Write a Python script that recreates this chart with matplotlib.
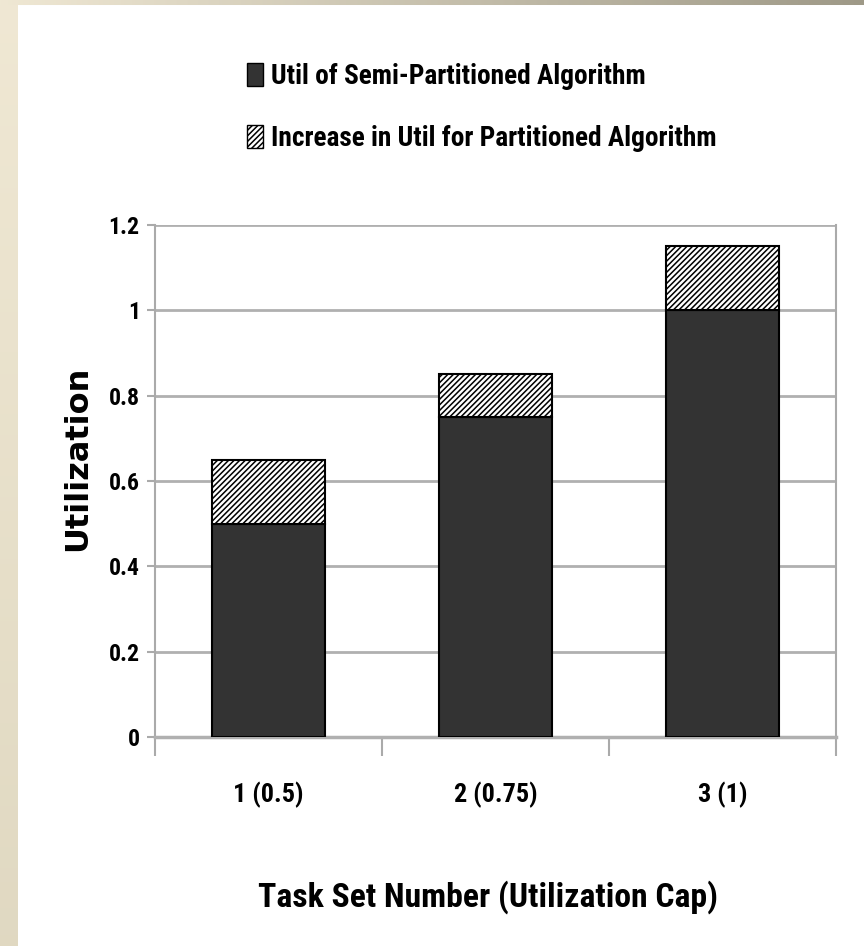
import numpy as np
import matplotlib.pyplot as plt
from matplotlib.patches import Patch
from matplotlib import font_manager

# data
categories = ['1 (0.5)', '2 (0.75)', '3 (1)']
semi_util = [0.5, 0.75, 1.0]
partition_increase = [0.15, 0.10, 0.15]
yticks = [0, 0.2, 0.4, 0.6, 0.8, 1, 1.2]
ytick_labels = ['0', '0.2', '0.4', '0.6', '0.8', '1', '1.2']
legend_labels = ['Util of Semi-Partitioned Algorithm', 'Increase in Util for Partitioned Algorithm']

# pick a condensed bold face that is installed
fonts = font_manager.fontManager.ttflist
narrow = 'Liberation Sans'
for cand in ['Liberation Sans Narrow', 'Arimo Narrow', 'Roboto Condensed', 'PT Sans Narrow',
             'Archivo Narrow', 'Barlow Condensed', 'Asap Condensed']:
    if any(f.name == cand and int(f.weight) >= 700 for f in fonts):
        narrow = cand
        break

plt.rcParams['hatch.linewidth'] = 1.1
plt.rcParams['hatch.color'] = '#333333'

fig = plt.figure(figsize=(8.64, 9.46), dpi=100, facecolor='white')

# slide background strips (left and top)
bg = fig.add_axes([0, 0, 1, 1], zorder=-10)
grad = np.ones((946, 864, 3))
left_col = np.linspace(0, 1, 946)[:, None]
grad[:, :18] = (np.array([0.94, 0.91, 0.83]) * (1 - left_col) + np.array([0.88, 0.85, 0.76]) * left_col)[:, None, :]
top_row = np.linspace(0, 1, 864)[:, None]
grad[:6, :] = (np.array([0.94, 0.91, 0.83]) * (1 - top_row) + np.array([0.62, 0.60, 0.53]) * top_row)[None, :, :]
bg.imshow(grad, aspect='auto', extent=[0, 1, 0, 1])
bg.axis('off')

ax = fig.add_axes([155 / 864, 209 / 946, 681 / 864, 512 / 946])
x = np.arange(len(categories))
ax.bar(x, semi_util, width=0.5, color='#333333', edgecolor='black', linewidth=1.5, zorder=3)
ax.bar(x, partition_increase, bottom=semi_util, width=0.5, color='white',
       edgecolor='black', linewidth=1.5, hatch='//////', zorder=3)

ax.set_xlim(-0.5, 2.5)
ax.set_ylim(0, 1.2)
ax.set_yticks(yticks)
ax.set_yticklabels(ytick_labels, family=narrow, fontweight='bold', fontsize=20)
ax.set_xticks(x)
ax.set_xticklabels(categories, family=narrow, fontweight='bold', fontsize=20)
ax.tick_params(axis='x', length=0, pad=32)
ax.tick_params(axis='y', length=6, color='#aaaaaa', width=1.5, pad=5)
# category separators
ax.set_xticks([-0.5, 0.5, 1.5, 2.5], minor=True)
ax.tick_params(axis='x', which='minor', length=14, color='#aaaaaa', width=1.5)
ax.yaxis.grid(True, color='#b0b0b0', linewidth=2, zorder=0)
ax.set_axisbelow(True)
for s in ['left', 'right']:
    ax.spines[s].set_color('#aaaaaa')
    ax.spines[s].set_linewidth(1.5)
ax.spines['bottom'].set_color('#b0b0b0')
ax.spines['bottom'].set_linewidth(2.5)
ax.spines['top'].set_visible(False)

ylab = fig.text(78 / 864, 1 - 458 / 946, 'Utilization', family='DejaVu Sans', fontweight='bold',
                fontsize=23, rotation=90, ha='center', va='center')
xlab = fig.text(488 / 864, 1 - 897 / 946, 'Task Set Number (Utilization Cap)', family=narrow,
                fontweight='bold', fontsize=27, ha='center', va='center')

handles = [Patch(facecolor='#333333', edgecolor='black'),
           Patch(facecolor='white', edgecolor='black', hatch='//////')]


def width_px(t):
    fig.canvas.draw()
    return t.get_window_extent().width


# scale the condensed texts so their widths match the picture
xlab.set_fontsize(27 * 460 / width_px(xlab))
lab = ax.get_xticklabels()[1]
s = 20 * 84 / width_px(lab)
for t in ax.get_xticklabels():
    t.set_fontsize(s)
lab = ax.get_yticklabels()[4]
s = 20 * 31 / width_px(lab)
for t in ax.get_yticklabels():
    t.set_fontsize(s)

tmp = fig.text(0, 0, legend_labels[1], family=narrow, fontweight='bold', fontsize=24)
leg_size = 24 * 448 / width_px(tmp)
tmp.remove()

fig.legend(handles, legend_labels,
           loc='upper left', bbox_to_anchor=(222 / 864, 1 - 38 / 946), frameon=False,
           prop={'family': narrow, 'weight': 'bold', 'size': leg_size},
           handlelength=0.6, handleheight=0.9, handletextpad=0.3, labelspacing=1.3)

fig.savefig('out.png', dpi=100)
